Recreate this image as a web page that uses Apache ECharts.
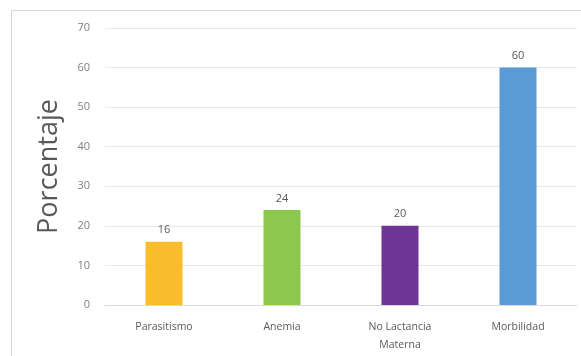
<!DOCTYPE html>
<html><head><meta charset="utf-8">
<script src="https://cdn.jsdelivr.net/npm/echarts@6/dist/echarts.min.js"></script>
<style>html,body{margin:0;padding:0;background:#fff}#c{width:581px;height:356px}</style>
</head><body><div id="c"></div>
<script>
const categories = ["Parasitismo", "Anemia", "No Lactancia\nMaterna", "Morbilidad"];
const values = [16, 24, 20, 60];
const barColors = ["#F9BC2A", "#8CC84E", "#6E3596", "#5B9BD5"];
const yTicks = { min: 0, max: 70, interval: 10 };
const yName = "Porcentaje";

const chart = echarts.init(document.getElementById('c'));
chart.setOption({
  animation: false,
  backgroundColor: '#fff',
  textStyle: { fontFamily: 'Open Sans' },
  graphic: [{
    type: 'rect', shape: { x: 11.5, y: 10.5, width: 600, height: 400 },
    style: { fill: 'none', stroke: '#d9d4d2', lineWidth: 1 }, silent: true
  }],
  grid: { left: 105, right: 4, top: 28, bottom: 51 },
  xAxis: {
    type: 'category', data: categories,
    axisLine: { lineStyle: { color: '#d9d9d9' } },
    axisTick: { show: false },
    axisLabel: { color: '#595959', fontSize: 10.5, margin: 13, lineHeight: 18 }
  },
  yAxis: {
    type: 'value', min: yTicks.min, max: yTicks.max, interval: yTicks.interval,
    name: yName, nameLocation: 'middle', nameGap: 42, nameRotate: 90,
    nameTextStyle: { color: '#595959', fontSize: 27 },
    axisLine: { show: false }, axisTick: { show: false },
    axisLabel: { color: '#7f7f7f', fontSize: 11, margin: 15 },
    splitLine: { lineStyle: { color: '#e8e8e8' } }
  },
  series: [{
    type: 'bar', barWidth: 37,
    data: values.map((v, i) => ({ value: v, itemStyle: { color: barColors[i] } })),
    label: { show: true, position: 'top', color: '#595959', fontSize: 11, distance: 6 }
  }]
});
</script></body></html>
